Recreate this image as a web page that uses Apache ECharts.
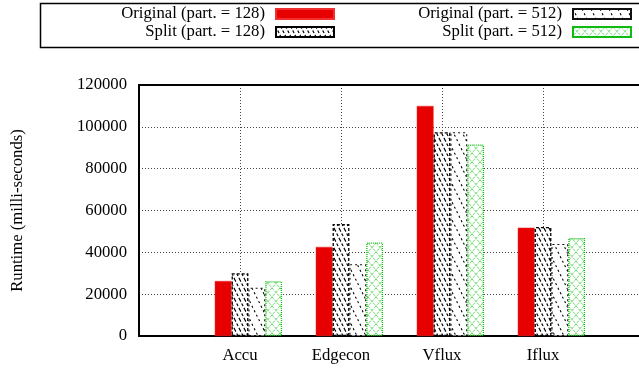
<!DOCTYPE html>
<html>
<head>
<meta charset="utf-8">
<script src="https://cdn.jsdelivr.net/npm/echarts@6/dist/echarts.min.js"></script>
<style>
html,body{margin:0;padding:0;background:#fff;}
#c{width:639px;height:370px;}
</style>
</head>
<body>
<div id="c"></div>
<script>
var categories = ['Accu', 'Edgecon', 'Vflux', 'Iflux'];
var seriesNames = ['Original (part. = 128)', 'Split (part. = 128)', 'Original (part. = 512)', 'Split (part. = 512)'];
var original128 = [26300, 42600, 110000, 51800];
var split128 = [30000, 53500, 97400, 52100];
var original512 = [23100, 34300, 97400, 44000];
var split512 = [26200, 44700, 91600, 46800];
var yTicks = [0, 20000, 40000, 60000, 80000, 100000, 120000];

var FONT = 'Liberation Serif';
var FS = 16.7;

function makePattern(w, h, draw) {
  var c = document.createElement('canvas');
  c.width = w; c.height = h;
  var ctx = c.getContext('2d');
  ctx.fillStyle = '#fff';
  ctx.fillRect(0, 0, w, h);
  draw(ctx, w, h);
  return { image: c, repeat: 'repeat' };
}
function backLines(ctx, w, h) {
  for (var k = -1; k <= 1; k++) {
    ctx.beginPath();
    ctx.moveTo(k * w - w, -h);
    ctx.lineTo(k * w + 2 * w, 2 * h);
    ctx.stroke();
  }
}
function fwdLines(ctx, w, h) {
  for (var k = -1; k <= 1; k++) {
    ctx.beginPath();
    ctx.moveTo(k * w + 2 * w, -h);
    ctx.lineTo(k * w - w, 2 * h);
    ctx.stroke();
  }
}
var patDense = makePattern(5, 10, function (ctx, w, h) {
  ctx.strokeStyle = '#000';
  ctx.lineWidth = 1.2;
  ctx.setLineDash([3, 2]);
  backLines(ctx, w, h);
});
var patSparse = makePattern(9, 18, function (ctx, w, h) {
  ctx.strokeStyle = '#000';
  ctx.lineWidth = 1.1;
  ctx.setLineDash([2, 3]);
  backLines(ctx, w, h);
});
var patCross = makePattern(8, 9, function (ctx, w, h) {
  ctx.strokeStyle = '#22cc22';
  ctx.lineWidth = 1;
  ctx.setLineDash([1, 1]);
  backLines(ctx, w, h);
  fwdLines(ctx, w, h);
});

var seriesValues = [original128, split128, original512, split512];
var styles = [
  { color: '#e60000', borderColor: '#f03030', borderWidth: 0.5 },
  { color: patDense, borderColor: '#000', borderWidth: 1.3, borderType: [3, 2] },
  { color: patSparse, borderColor: '#111', borderWidth: 1.1, borderType: [2, 3] },
  { color: patCross, borderColor: '#11bb11', borderWidth: 1.3, borderType: [1, 1] }
];

var nGroup = 4, gapUnits = 2;
var slot = 1 / (nGroup + gapUnits);
var pxPerUnit = 101;
var plotLeft = 139, plotRight = 639;
var xMax = (plotRight - plotLeft) / pxPerUnit;

var series = seriesValues.map(function (vals, j) {
  return {
    name: seriesNames[j],
    type: 'bar',
    barGap: '-100%',
    barWidth: pxPerUnit * slot,
    itemStyle: styles[j],
    emphasis: { disabled: true },
    data: vals.map(function (v, i) { return [i + 1 + (j - 1) * slot, v]; })
  };
});

var legendCommon = {
  orient: 'vertical',
  align: 'right',
  icon: 'rect',
  itemWidth: 58,
  itemHeight: 10,
  itemGap: 0,
  padding: 0,
  top: 5,
  selectedMode: false,
  textStyle: { fontFamily: FONT, fontSize: FS, color: '#000', lineHeight: 18, padding: [0, 6, 0, 0] }
};

var chart = echarts.init(document.getElementById('c'), null, { renderer: 'canvas' });
chart.setOption({
  animation: false,
  backgroundColor: '#fff',
  grid: { left: plotLeft, right: 639 - plotRight, top: 85, bottom: 34 },
  graphic: [{
    type: 'rect', left: 38, top: 1, shape: { width: 620, height: 44 },
    style: { fill: 'none', stroke: '#000', lineWidth: 1.5 }, silent: true, z: -1
  }],
  legend: [
    Object.assign({}, legendCommon, { right: 639 - 335, data: [seriesNames[0], seriesNames[1]] }),
    Object.assign({}, legendCommon, { right: 7, data: [seriesNames[2], seriesNames[3]] })
  ],
  xAxis: [{
    type: 'value', min: 0, max: xMax, interval: 1,
    axisLine: { show: true, lineStyle: { color: '#000', width: 2 } },
    axisTick: { show: false },
    axisLabel: {
      margin: 11, fontFamily: FONT, fontSize: FS, color: '#000',
      showMaxLabel: false,
      formatter: function (v) { return categories[Math.round(v) - 1] && Math.abs(v - Math.round(v)) < 1e-6 ? categories[Math.round(v) - 1] : ''; }
    },
    splitLine: { show: true, lineStyle: { color: '#444', width: 1, type: [1, 2] } }
  }, {
    type: 'value', position: 'top', min: 0, max: xMax,
    axisLine: { show: true, lineStyle: { color: '#000', width: 2 } },
    axisTick: { show: false }, axisLabel: { show: false }, splitLine: { show: false }
  }],
  yAxis: {
    type: 'value', min: yTicks[0], max: yTicks[yTicks.length - 1], interval: yTicks[1] - yTicks[0],
    name: 'Runtime (milli-seconds)', nameLocation: 'middle', nameGap: 113, nameRotate: 90,
    nameTextStyle: { fontFamily: FONT, fontSize: FS, color: '#000' },
    axisLine: { show: true, lineStyle: { color: '#000', width: 2 } },
    axisTick: { show: false },
    axisLabel: { margin: 12, fontFamily: FONT, fontSize: FS, color: '#000', formatter: function (v) { return String(v); } },
    splitLine: { show: true, lineStyle: { color: '#444', width: 1, type: [1, 2] } }
  },
  series: series
});
</script>
</body>
</html>
